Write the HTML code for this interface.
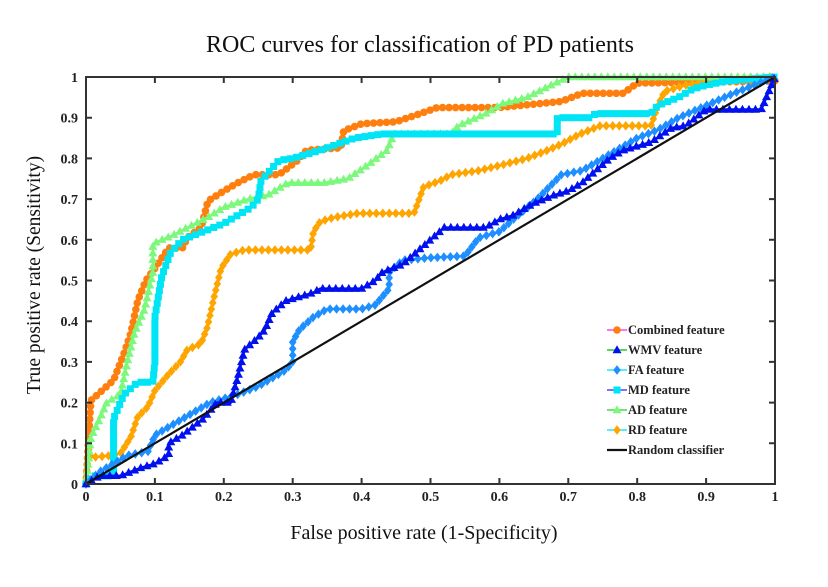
<!DOCTYPE html>
<html><head><meta charset="utf-8"><style>
body{margin:0;background:#fff;}
svg text{font-family:"Liberation Serif",serif;}
</style></head><body>
<svg id="chart" width="828" height="582" xmlns="http://www.w3.org/2000/svg">
<text x="420" y="52" text-anchor="middle" font-size="24" fill="#111">ROC curves for classification of PD patients</text>
<text x="424" y="539" text-anchor="middle" font-size="20" fill="#111">False positive rate (1-Specificity)</text>
<text transform="translate(40,275) rotate(-90)" text-anchor="middle" font-size="19.5" fill="#111">True positive rate (Sensitivity)</text>
<g id="grid"></g><g id="series"></g><g id="frame"></g><g id="legend"></g>
</svg>
<script>
const xTicks=[0,0.1,0.2,0.3,0.4,0.5,0.6,0.7,0.8,0.9,1];
const yTicks=[0,0.1,0.2,0.3,0.4,0.5,0.6,0.7,0.8,0.9,1];
const seriesNames=["Combined feature","WMV feature","FA feature","MD feature","AD feature","RD feature","Random classifier"];
const combinedPts=[[0,0],[0.007,0.205],[0.017,0.22],[0.04,0.255],[0.055,0.32],[0.065,0.37],[0.075,0.45],[0.087,0.5],[0.1,0.53],[0.12,0.58],[0.14,0.58],[0.147,0.605],[0.167,0.63],[0.177,0.695],[0.2,0.72],[0.22,0.74],[0.244,0.76],[0.28,0.76],[0.307,0.795],[0.32,0.82],[0.37,0.826],[0.374,0.868],[0.40,0.885],[0.45,0.89],[0.485,0.91],[0.51,0.925],[0.6,0.925],[0.69,0.94],[0.72,0.96],[0.78,0.96],[0.8,0.985],[1,0.99],[1,1]];
const wmvPts=[[0,0],[0.02,0.02],[0.05,0.02],[0.08,0.04],[0.1,0.05],[0.12,0.07],[0.12,0.1],[0.14,0.12],[0.17,0.16],[0.19,0.2],[0.21,0.2],[0.22,0.26],[0.23,0.33],[0.25,0.36],[0.26,0.38],[0.27,0.42],[0.29,0.45],[0.31,0.46],[0.33,0.47],[0.34,0.48],[0.40,0.48],[0.42,0.50],[0.43,0.52],[0.46,0.54],[0.48,0.57],[0.5,0.6],[0.52,0.63],[0.58,0.63],[0.6,0.65],[0.62,0.66],[0.65,0.69],[0.68,0.71],[0.7,0.72],[0.72,0.74],[0.74,0.77],[0.76,0.8],[0.78,0.82],[0.82,0.84],[0.85,0.875],[0.87,0.88],[0.9,0.92],[0.98,0.92],[0.99,0.96],[1,1]];
const faPts=[[0,0],[0.02,0.03],[0.04,0.05],[0.06,0.07],[0.09,0.08],[0.1,0.12],[0.12,0.14],[0.14,0.16],[0.16,0.18],[0.18,0.2],[0.2,0.21],[0.22,0.22],[0.25,0.24],[0.27,0.26],[0.29,0.28],[0.3,0.3],[0.3,0.35],[0.31,0.38],[0.33,0.41],[0.35,0.43],[0.4,0.43],[0.42,0.44],[0.43,0.46],[0.44,0.48],[0.44,0.52],[0.46,0.55],[0.5,0.556],[0.55,0.56],[0.57,0.605],[0.6,0.62],[0.62,0.65],[0.655,0.7],[0.69,0.76],[0.72,0.77],[0.74,0.79],[0.77,0.82],[0.8,0.85],[0.83,0.87],[0.86,0.9],[0.9,0.93],[0.94,0.96],[0.97,0.98],[1,1]];
const mdPts=[[0,0],[0.01,0.02],[0.04,0.02],[0.04,0.16],[0.055,0.22],[0.075,0.25],[0.097,0.25],[0.1,0.30],[0.1,0.41],[0.11,0.51],[0.123,0.57],[0.14,0.6],[0.17,0.62],[0.2,0.64],[0.22,0.66],[0.24,0.68],[0.25,0.7],[0.254,0.745],[0.28,0.795],[0.3,0.8],[0.34,0.82],[0.39,0.85],[0.43,0.86],[0.684,0.86],[0.684,0.9],[0.73,0.9],[0.74,0.91],[0.82,0.91],[0.83,0.93],[0.86,0.95],[0.88,0.97],[0.9,0.98],[0.93,0.99],[1,1]];
const adPts=[[0,0],[0.007,0.115],[0.02,0.16],[0.03,0.2],[0.05,0.22],[0.06,0.3],[0.07,0.37],[0.085,0.43],[0.097,0.52],[0.097,0.59],[0.11,0.6],[0.125,0.61],[0.147,0.63],[0.177,0.655],[0.2,0.68],[0.235,0.7],[0.264,0.71],[0.293,0.74],[0.345,0.74],[0.38,0.75],[0.41,0.785],[0.437,0.82],[0.447,0.86],[0.53,0.86],[0.54,0.88],[0.58,0.91],[0.605,0.935],[0.64,0.95],[0.675,0.98],[0.70,1],[1,1]];
const rdPts=[[0,0],[0.003,0.09],[0.007,0.065],[0.036,0.07],[0.05,0.075],[0.065,0.115],[0.075,0.165],[0.09,0.19],[0.1,0.23],[0.12,0.27],[0.137,0.3],[0.147,0.33],[0.167,0.345],[0.176,0.385],[0.186,0.46],[0.196,0.53],[0.21,0.565],[0.23,0.575],[0.326,0.575],[0.33,0.62],[0.34,0.645],[0.36,0.655],[0.394,0.665],[0.476,0.665],[0.49,0.73],[0.514,0.745],[0.53,0.76],[0.57,0.77],[0.606,0.785],[0.64,0.8],[0.67,0.82],[0.69,0.835],[0.717,0.86],[0.746,0.88],[0.82,0.88],[0.83,0.93],[0.84,0.965],[0.87,0.98],[0.92,0.995],[1,1]];
const randomPts=[[0,0],[1,1]];

const NS="http://www.w3.org/2000/svg";
const L=86,R=775,T=77,B=484;
const sx=v=>L+v*(R-L), sy=v=>B-v*(B-T);
const svg=document.getElementById('chart');
function mk(tag,attrs,parent){const e=document.createElementNS(NS,tag);for(const k in attrs)e.setAttribute(k,attrs[k]);parent.appendChild(e);return e;}
const frame=document.getElementById('frame');
xTicks.forEach(t=>{
  const x=sx(t);
  const tk=mk('path',{d:`M${x},${B}v-6M${x},${T}v6`,stroke:'#333','stroke-width':2},frame);
  
  
  const lb=mk('text',{x:x,y:B+17,'text-anchor':'middle','font-size':14,'font-weight':'bold',fill:'#222'},frame);
  lb.textContent=t;
  
  
});
yTicks.forEach(t=>{
  const y=sy(t);
  const tk=mk('path',{d:`M${L},${y}h6M${R},${y}h-6`,stroke:'#333','stroke-width':2},frame);
  
  
  const lb=mk('text',{x:L-8,y:y+5,'text-anchor':'end','font-size':14,'font-weight':'bold',fill:'#222'},frame);
  lb.textContent=t;
  
  
});
const box=mk('rect',{x:L,y:T,width:R-L,height:B-T,fill:'none',stroke:'#333','stroke-width':2},frame);



function marker(shape,x,y,c,g){
  let e;
  if(shape==='circle')e=mk('circle',{cx:x,cy:y,r:3.8,fill:c},g);
  else if(shape==='tri')e=mk('path',{d:`M${x},${y-4.8}L${x+4.5},${y+3.2}L${x-4.5},${y+3.2}Z`,fill:c},g);
  else if(shape==='diamond')e=mk('path',{d:`M${x},${y-4.8}L${x+3.8},${y}L${x},${y+4.8}L${x-3.8},${y}Z`,fill:c},g);
  else e=mk('rect',{x:x-3.5,y:y-3.5,width:7,height:7,fill:c},g);
  return e;
}
const defs=[
 {name:'combined',pts:combinedPts,c:'#ff7f0e',shape:'circle'},
 {name:'rd',pts:rdPts,c:'#ffa500',shape:'diamond'},
 {name:'ad',pts:adPts,c:'#7cf87c',shape:'tri'},
 {name:'md',pts:mdPts,c:'#00e5f5',shape:'square'},
 {name:'fa',pts:faPts,c:'#1e8fff',shape:'diamond'},
 {name:'wmv',pts:wmvPts,c:'#0010ee',shape:'tri'}
];
const sg=document.getElementById('series');
defs.forEach(d=>{
  const g=mk('g',{},sg);
  
  
  const dd=d.pts.map((p,i)=>(i?'L':'M')+sx(p[0])+','+sy(p[1])).join('');
  const path=mk('path',{d:dd,fill:'none',stroke:d.c,'stroke-width':2.5},g);
  
  
  const len=path.getTotalLength();
  for(let s=0;s<=len;s+=6.5){
    const p=path.getPointAtLength(s);
    const m=marker(d.shape,p.x,p.y,d.c,g);
    
    
  }
});
const rl=mk('path',{d:`M${sx(randomPts[0][0])},${sy(randomPts[0][1])}L${sx(randomPts[1][0])},${sy(randomPts[1][1])}`,stroke:'#111','stroke-width':2.2,fill:'none'},sg);



const lg=document.getElementById('legend');
const legLine=['#ff40ff','#22cc22','#22e5ff','#5544ff','#44dd44','#22e5ff','#111'];
const legMark=['#ff7f0e','#0010ee','#1e8fff','#00e5f5','#7cf87c','#ffa500',null];
const legShape=['circle','tri','diamond','square','tri','diamond',null];
seriesNames.forEach((n,i)=>{
  const y=330+i*20;
  const g=mk('g',{},lg);
  
  
  mk('line',{x1:607,x2:627,y1:y,y2:y,stroke:legLine[i],'stroke-width':i===6?2.2:1.5},g);
  if(legMark[i])marker(legShape[i],617,y,legMark[i],g);
  const t=mk('text',{x:628,y:y+4,'font-size':12.5,'font-weight':'bold',fill:'#222'},g);
  t.textContent=n;
});
</script>
</body></html>
